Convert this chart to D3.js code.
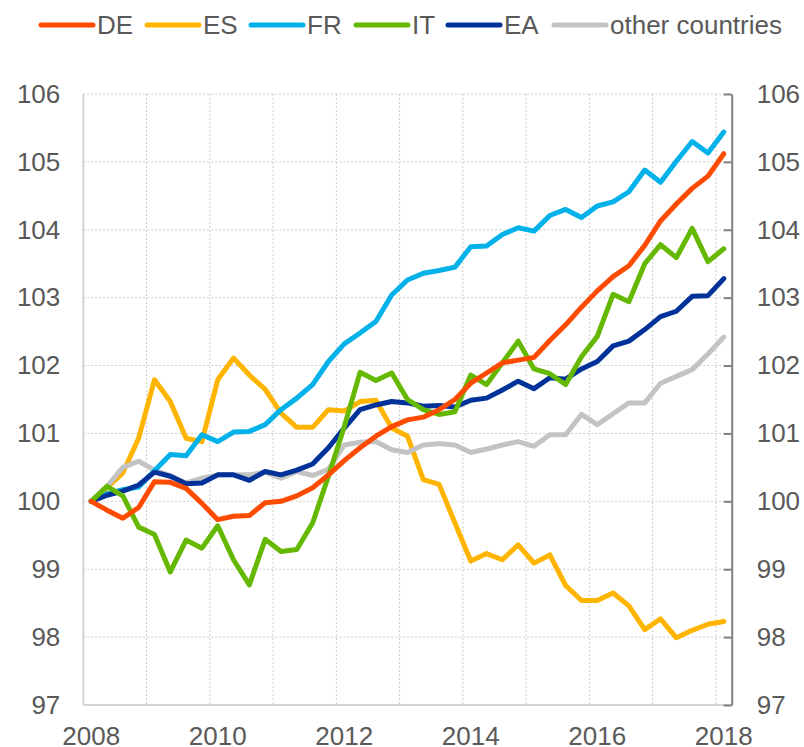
<!DOCTYPE html>
<html>
<head>
<meta charset="utf-8">
<script src="https://cdn.jsdelivr.net/npm/d3@7"></script>
<style>
  body { margin: 0; background: #fff; }
  svg text { font-family: "Liberation Sans", Arial, sans-serif; fill: #595959; }
</style>
</head>
<body>
<svg id="chart" width="804" height="747"></svg>
<script>
// quarterly index, 2008Q1 = 100
var quarters = []
for (var yr = 2008; yr <= 2018; yr++) {
  for (var q = 1; q <= 4; q++) {
    if (yr == 2018 && q > 1) break
    quarters.push(yr + "Q" + q)
  }
}
var yearTicks = ["2008Q1", "2010Q1", "2012Q1", "2014Q1", "2016Q1", "2018Q1"]
var yTicks = [97, 98, 99, 100, 101, 102, 103, 104, 105, 106]

var seriesNames = ["DE", "ES", "FR", "IT", "EA", "other countries"]
var seriesColors = ["#ff4b00", "#ffb400", "#00b1ea", "#65b800", "#003299", "#c3c3c3"]

var DE = [100, 99.87, 99.75, 99.91, 100.29, 100.28, 100.19, 99.97, 99.73, 99.78, 99.79, 99.98,
  100.0, 100.08, 100.2, 100.39, 100.6, 100.79, 100.96, 101.1, 101.2, 101.24, 101.35, 101.5,
  101.74, 101.89, 102.04, 102.08, 102.12, 102.37, 102.6, 102.86, 103.1, 103.31, 103.47, 103.77,
  104.13, 104.38, 104.61, 104.79, 105.12]
var ES = [100, 100.2, 100.42, 100.93, 101.79, 101.47, 100.93, 100.88, 101.79, 102.11, 101.86, 101.65,
  101.3, 101.09, 101.09, 101.35, 101.33, 101.47, 101.49, 101.08, 100.96, 100.32, 100.25, 99.68,
  99.12, 99.23, 99.14, 99.36, 99.09, 99.21, 98.76, 98.54, 98.54, 98.65, 98.46, 98.11,
  98.27, 97.99, 98.1, 98.19, 98.23]
var FR = [100, 100.11, 100.17, 100.21, 100.45, 100.69, 100.67, 100.98, 100.88, 101.02, 101.03, 101.13,
  101.35, 101.52, 101.72, 102.06, 102.32, 102.48, 102.65, 103.04, 103.26, 103.36, 103.4, 103.45,
  103.75, 103.76, 103.93, 104.03, 103.98, 104.21, 104.3, 104.18, 104.35, 104.41, 104.56, 104.88,
  104.7, 105.01, 105.3, 105.13, 105.44]
var IT = [100, 100.22, 100.08, 99.62, 99.51, 98.96, 99.43, 99.31, 99.64, 99.14, 98.77, 99.44,
  99.26, 99.29, 99.68, 100.37, 101.1, 101.9, 101.78, 101.89, 101.5, 101.35, 101.28, 101.32,
  101.86, 101.72, 102.04, 102.36, 101.95, 101.88, 101.72, 102.13, 102.43, 103.05, 102.94, 103.5,
  103.78, 103.59, 104.02, 103.53, 103.72]
var EA = [100, 100.09, 100.15, 100.24, 100.43, 100.37, 100.26, 100.27, 100.39, 100.39, 100.31, 100.44,
  100.39, 100.46, 100.55, 100.79, 101.08, 101.35, 101.42, 101.47, 101.45, 101.4, 101.41, 101.39,
  101.49, 101.52, 101.64, 101.77, 101.66, 101.82, 101.8, 101.95, 102.06, 102.29, 102.36, 102.53,
  102.72, 102.8, 103.02, 103.03, 103.28]
var OTHER = [100, 100.22, 100.5, 100.59, 100.46, 100.38, 100.27, 100.34, 100.39, 100.39, 100.39, 100.43,
  100.34, 100.44, 100.38, 100.47, 100.83, 100.87, 100.88, 100.76, 100.72, 100.83, 100.85, 100.83,
  100.72, 100.77, 100.83, 100.88, 100.81, 100.98, 100.98, 101.28, 101.13, 101.29, 101.45, 101.45,
  101.74, 101.84, 101.94, 102.17, 102.42]
var seriesValues = [DE, ES, FR, IT, EA, OTHER]

var svg = d3.select("#chart")
var plotLeft = 83.3, plotRight = 731.7, plotTop = 94, plotBottom = 705

var x = d3.scaleBand().domain(quarters).range([plotLeft, plotRight]).paddingInner(0).paddingOuter(0)
var y = d3.scaleLinear().domain([97, 106]).range([plotBottom, plotTop])
var cx = function(q) { return x(q) + x.bandwidth() / 2 }

// grid
var grid = svg.append("g").attr("class", "grid")
grid.selectAll(".hgrid").data(yTicks.slice(1)).enter().append("line")
  .attr("x1", plotLeft).attr("x2", plotRight)
  .attr("y1", function(d) { return y(d) }).attr("y2", function(d) { return y(d) })
  .style("stroke", "#cccccc").style("stroke-width", "1px").style("stroke-dasharray", "2,2")
var vgridQ = quarters.filter(function(d, i) { return i > 0 && i % 4 == 0 })
grid.selectAll(".vgrid").data(vgridQ).enter().append("line")
  .attr("x1", function(d) { return x(d) }).attr("x2", function(d) { return x(d) })
  .attr("y1", plotTop).attr("y2", plotBottom)
  .style("stroke", "#cccccc").style("stroke-width", "1px").style("stroke-dasharray", "2,2")

// left axis (light), right axis (dark with inner ticks), bottom axis
svg.append("line").attr("x1", plotLeft).attr("x2", plotLeft).attr("y1", plotTop).attr("y2", plotBottom)
  .style("stroke", "#d4d4d4").style("stroke-width", "2px")
svg.append("line").attr("x1", plotLeft).attr("x2", plotRight).attr("y1", plotBottom).attr("y2", plotBottom)
  .style("stroke", "#d4d4d4").style("stroke-width", "2px")

var yLeft = d3.axisLeft(y).tickValues(yTicks).tickSize(0).tickPadding(23)
svg.append("g").attr("transform", "translate(" + plotLeft + ",0)").call(yLeft)
  .call(function(g) { g.select(".domain").remove() })
  .selectAll("text").style("font-size", "26px")

var yRight = d3.axisRight(y).tickValues(yTicks).tickSize(-8).tickPadding(25).tickSizeOuter(0)
var ra = svg.append("g").attr("transform", "translate(" + plotRight + ",0)").call(yRight)
ra.select(".domain").style("stroke", "#808080").style("stroke-width", "2px")
ra.selectAll(".tick line").style("stroke", "#808080").style("stroke-width", "2px")
ra.selectAll("text").style("font-size", "26px")

var xAxis = d3.axisBottom(x).tickValues(yearTicks).tickSize(0).tickPadding(22)
  .tickFormat(function(d) { return d.slice(0, 4) })
svg.append("g").attr("transform", "translate(0," + plotBottom + ")").call(xAxis)
  .call(function(g) { g.select(".domain").remove() })
  .selectAll("text").style("font-size", "26px")

// lines
var line = d3.line().x(function(d, i) { return cx(quarters[i]) }).y(function(d) { return y(d) })
var order = [1, 5, 2, 4, 3, 0] // drawing order
order.forEach(function(k) {
  svg.append("path").datum(seriesValues[k]).attr("d", line)
    .style("fill", "none").style("stroke", seriesColors[k])
    .style("stroke-width", "5px").style("stroke-linejoin", "round").style("stroke-linecap", "round")
})

// legend
var legendX = [41, 147, 251, 356, 448, 554]
var lg = svg.append("g").attr("class", "legend")
seriesNames.forEach(function(name, k) {
  lg.append("line").attr("x1", legendX[k]).attr("x2", legendX[k] + 52).attr("y1", 25).attr("y2", 25)
    .style("stroke", seriesColors[k]).style("stroke-width", "5px").style("stroke-linecap", "round")
  lg.append("text").attr("x", legendX[k] + 56).attr("y", 25).attr("dy", "0.35em")
    .style("font-size", "26px").text(name)
})
</script>
</body>
</html>
